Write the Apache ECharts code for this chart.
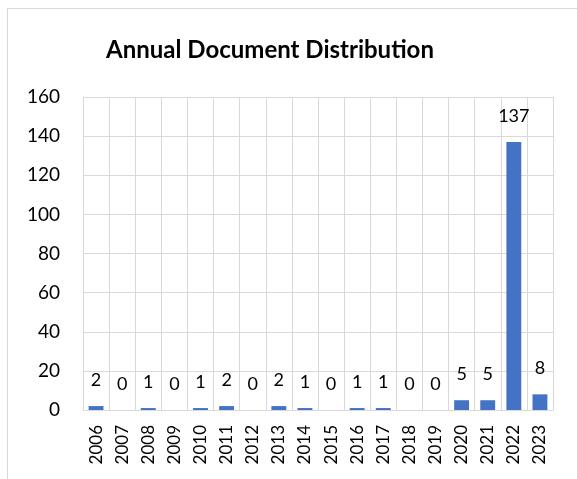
<!DOCTYPE html>
<html>
<head>
<meta charset="utf-8">
<script src="https://cdn.jsdelivr.net/npm/echarts@6/dist/echarts.min.js"></script>
<style>
  html, body { margin: 0; padding: 0; background: #fff; }
  #frame { position: absolute; left: 7px; top: 8px; width: 600px; height: 520px; border: 1px solid #d9d9d9; box-sizing: border-box; }
  #chart { position: absolute; left: 0; top: 0; width: 577px; height: 479px; }
</style>
</head>
<body>
<div id="frame"></div>
<div id="chart"></div>
<script>
const years = ['2006','2007','2008','2009','2010','2011','2012','2013','2014','2015','2016','2017','2018','2019','2020','2021','2022','2023'];
const documents = [2, 0, 1, 0, 1, 2, 0, 2, 1, 0, 1, 1, 0, 0, 5, 5, 137, 8];
const yTicks = { min: 0, max: 160, interval: 20 };

const font = 'Lato, "Open Sans", sans-serif';
const chart = echarts.init(document.getElementById('chart'), null, { renderer: 'canvas' });
chart.setOption({
  animation: false,
  title: {
    text: 'Annual Document Distribution',
    left: 265, top: 33, textAlign: 'center',
    textStyle: { fontFamily: font, fontSize: 24, fontWeight: 'bold', color: '#000' }
  },
  grid: { left: 83, right: 24, top: 97, bottom: 69, containLabel: false },
  xAxis: {
    type: 'category',
    data: years,
    boundaryGap: true,
    axisLine: { lineStyle: { color: '#d9d9d9', width: 1 } },
    axisTick: { show: false },
    splitLine: { show: true, interval: 0, lineStyle: { color: '#d9d9d9', width: 1 } },
    axisLabel: { interval: 0, rotate: 90, margin: 15, fontFamily: font, fontSize: 17, color: '#000' }
  },
  yAxis: {
    type: 'value',
    min: yTicks.min, max: yTicks.max, interval: yTicks.interval,
    axisLine: { show: true, lineStyle: { color: '#d9d9d9', width: 1 } },
    axisTick: { show: false },
    splitLine: { show: true, lineStyle: { color: '#d9d9d9', width: 1 } },
    axisLabel: { margin: 23, fontFamily: font, fontSize: 19, color: '#000' }
  },
  series: [{
    type: 'bar',
    data: documents,
    barWidth: '57%',
    itemStyle: { color: '#4472C4' },
    label: { show: true, position: 'top', distance: 17, fontFamily: font, fontSize: 18, color: '#000' }
  }]
});
</script>
</body>
</html>
